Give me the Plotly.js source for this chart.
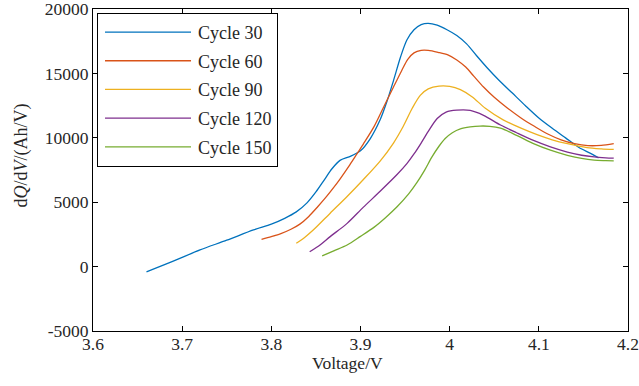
<!DOCTYPE html>
<html>
<head>
<meta charset="utf-8">
<script src="https://cdn.plot.ly/plotly-3.0.1.min.js"></script>
<style>
html,body{margin:0;padding:0;background:#fff;}
#chart{width:639px;height:386px;}
#chart svg text{font-family:"Liberation Serif","Times New Roman",Times,serif !important;}
</style>
</head>
<body>
<div id="chart"></div>
<script>
const seriesNames = ["Cycle 30", "Cycle 60", "Cycle 90", "Cycle 120", "Cycle 150"];
const seriesColors = ["#0072BD", "#D95319", "#EDB120", "#7E2F8E", "#77AC30"];

const v30 = [3.660, 3.690, 3.720, 3.750, 3.780, 3.800, 3.815, 3.828, 3.840, 3.850, 3.860, 3.868, 3.877, 3.888, 3.900, 3.911, 3.922, 3.930, 3.937, 3.945, 3.952, 3.960, 3.968, 3.976, 3.986, 3.997, 4.008, 4.019, 4.030, 4.042, 4.055, 4.070, 4.085, 4.100, 4.115, 4.130, 4.145, 4.158, 4.167];
const q30 = [-400, 430, 1300, 2050, 2850, 3300, 3750, 4250, 4950, 5800, 6800, 7600, 8250, 8550, 9000, 9950, 11400, 12900, 14450, 16300, 17600, 18400, 18800, 18900, 18750, 18400, 17950, 17300, 16400, 15450, 14500, 13500, 12500, 11550, 10750, 10000, 9250, 8800, 8450];

const v60 = [3.789, 3.800, 3.810, 3.822, 3.832, 3.842, 3.852, 3.862, 3.870, 3.877, 3.888, 3.896, 3.903, 3.915, 3.926, 3.937, 3.946, 3.953, 3.960, 3.968, 3.976, 3.987, 3.998, 4.008, 4.018, 4.027, 4.038, 4.050, 4.065, 4.080, 4.095, 4.110, 4.125, 4.140, 4.155, 4.170, 4.184];
const q60 = [2120, 2330, 2540, 2900, 3300, 3900, 4650, 5450, 6150, 6800, 7900, 8750, 9500, 10850, 12400, 13950, 15200, 16100, 16600, 16800, 16800, 16650, 16450, 16050, 15500, 14800, 13950, 13150, 12300, 11550, 10900, 10300, 9850, 9550, 9400, 9420, 9560];

const v90 = [3.828, 3.837, 3.847, 3.866, 3.885, 3.903, 3.922, 3.937, 3.948, 3.958, 3.967, 3.976, 3.988, 4.000, 4.012, 4.025, 4.040, 4.060, 4.080, 4.098, 4.115, 4.132, 4.154, 4.170, 4.184];
const q90 = [1810, 2250, 2840, 4150, 5450, 6750, 8200, 9600, 10900, 12300, 13300, 13800, 14020, 14000, 13750, 13200, 12300, 11400, 10750, 10250, 9850, 9550, 9250, 9150, 9100];

const v120 = [3.843, 3.855, 3.866, 3.885, 3.903, 3.922, 3.941, 3.952, 3.960, 3.968, 3.976, 3.986, 3.996, 4.008, 4.023, 4.038, 4.057, 4.075, 4.094, 4.113, 4.132, 4.148, 4.162, 4.175, 4.184];
const q120 = [1160, 1700, 2330, 3360, 4600, 5850, 7150, 8000, 8750, 9600, 10500, 11500, 12000, 12150, 12130, 11750, 11000, 10400, 9800, 9300, 8900, 8650, 8520, 8450, 8420];

const v150 = [3.857, 3.870, 3.885, 3.900, 3.915, 3.928, 3.941, 3.954, 3.963, 3.972, 3.980, 3.988, 3.995, 4.003, 4.012, 4.023, 4.034, 4.045, 4.057, 4.075, 4.094, 4.113, 4.132, 4.148, 4.162, 4.175, 4.184];
const q150 = [830, 1230, 1680, 2350, 3050, 3800, 4650, 5650, 6500, 7500, 8500, 9350, 9950, 10400, 10700, 10850, 10920, 10900, 10750, 10200, 9560, 9050, 8650, 8400, 8270, 8230, 8210];

const xTickVals = [3.6, 3.7, 3.8, 3.9, 4.0, 4.1, 4.2];
const xTickText = ["3.6", "3.7", "3.8", "3.9", "4", "4.1", "4.2"];
const yTickVals = [-5000, 0, 5000, 10000, 15000, 20000];
const yTickText = ["-5000", "0", "5000", "10000", "15000", "20000"];
const xTitle = "Voltage/V";
const yTitle = "d<i>Q</i>/d<i>V</i>/(Ah/V)";

const xs = [v30, v60, v90, v120, v150];
const ys = [q30, q60, q90, q120, q150];

const font = "Liberation Serif, Times New Roman, serif";
const txtColor = "#262626";
const traces = seriesNames.map((n, i) => ({
  x: xs[i], y: ys[i], name: n, type: "scatter", mode: "lines",
  line: {color: seriesColors[i], width: 1.3, shape: "spline", smoothing: 0.8},
  legendgroup: "g" + i
}));

const axisCommon = {
  showgrid: false, zeroline: false, showline: true, linecolor: "#000", linewidth: 1,
  mirror: "ticks", ticks: "inside", ticklen: 5, tickcolor: "#000", tickwidth: 1,
  tickfont: {family: font, size: 17.5, color: txtColor}, ticklabeloverflow: "allow"
};

const layout = {
  width: 639, height: 386,
  margin: {l: 93, r: 11, t: 9, b: 55},
  paper_bgcolor: "#fff", plot_bgcolor: "#fff",
  font: {family: font, color: txtColor},
  showlegend: true,
  legend: {
    x: 0.0075, y: 0.988, xanchor: "left", yanchor: "top",
    bordercolor: "#000", borderwidth: 1, bgcolor: "#fff",
    font: {family: font, size: 18, color: txtColor},
    tracegroupgap: 2.3, itemwidth: 90
  },
  xaxis: Object.assign({}, axisCommon, {
    range: [3.6, 4.2], tickmode: "array", tickvals: xTickVals, ticktext: xTickText,
    ticklabelstandoff: -3
  }),
  yaxis: Object.assign({}, axisCommon, {
    range: [-5000, 20010], tickmode: "array", tickvals: yTickVals, ticktext: yTickText
  }),
  annotations: [
    {text: xTitle, xref: "paper", yref: "paper", x: 0.4757, y: -0.099, xanchor: "center", yanchor: "middle",
     showarrow: false, font: {family: font, size: 17.5, color: txtColor}},
    {text: yTitle, xref: "paper", yref: "paper", x: -0.1345, y: 0.545, xanchor: "center", yanchor: "middle",
     textangle: -90, showarrow: false, font: {family: font, size: 18, color: txtColor}}
  ]
};

Plotly.newPlot("chart", traces, layout, {displayModeBar: false, staticPlot: true}).then(function (gd) {
  gd.querySelectorAll(".legend path.js-line").forEach(function (p) {
    p.setAttribute("d", "M7,0h86");
  });
});
</script>
</body>
</html>
